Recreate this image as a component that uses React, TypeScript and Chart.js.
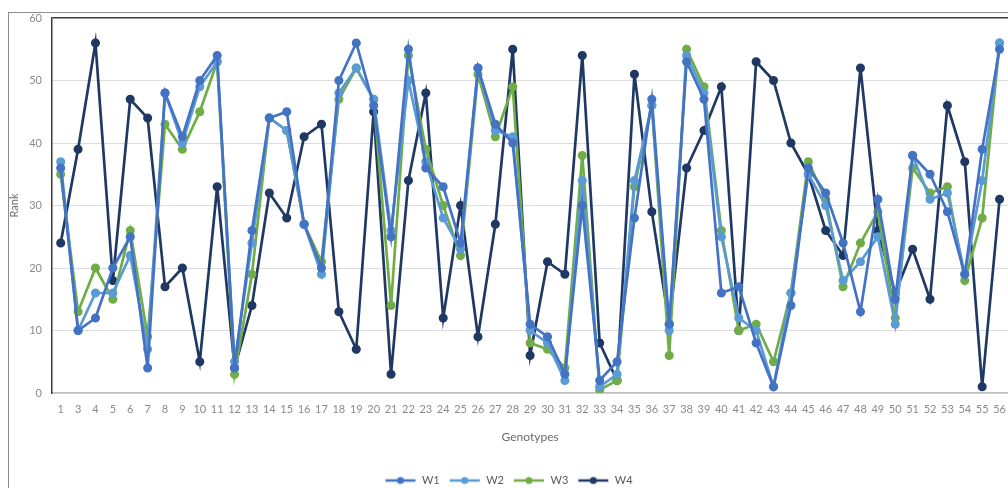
import React, { useEffect, useRef } from "react";
import { Chart, registerables } from "chart.js";

Chart.register(...registerables);

const genotypes = [
  "1", "3", "4", "5", "6", "7", "8", "9", "10", "11", "12", "13", "14", "15", "16", "17", "18", "19", "20",
  "21", "22", "23", "24", "25", "26", "27", "28", "29", "30", "31", "32", "33", "34", "35", "36", "37", "38",
  "39", "40", "41", "42", "43", "44", "45", "46", "47", "48", "49", "50", "51", "52", "53", "54", "55", "56",
];

const w1 = [
  36, 10, 12, 20, 25, 4, 48, 41, 50, 54, 4, 26, 44, 45, 27, 20, 50, 56, 46,
  25, 55, 36, 33, 24, 52, 43, 40, 11, 9, 3, 30, 2, 5, 28, 47, 11, 53,
  47, 16, 17, 8, 1, 14, 36, 32, 24, 13, 31, 15, 38, 35, 29, 19, 39, 55,
];
const w2 = [
  37, 10, 16, 16, 22, 7, 48, 40, 49, 53, 5, 24, 44, 42, 27, 19, 48, 52, 47,
  26, 50, 37, 28, 23, 52, 42, 41, 10, 8, 2, 34, 1, 3, 34, 46, 10, 54,
  48, 25, 12, 10, 1, 16, 35, 30, 18, 21, 25, 11, 38, 31, 32, 19, 34, 56,
];
const w3 = [
  35, 13, 20, 15, 26, 9, 43, 39, 45, 53, 3, 19, 44, 42, 27, 21, 47, 52, 47,
  14, 54, 39, 30, 22, 51, 41, 49, 8, 7, 4, 38, 0.5, 2, 33, 46, 6, 55,
  49, 26, 10, 11, 5, 16, 37, 31, 17, 24, 29, 12, 36, 32, 33, 18, 28, 56,
];
const w4 = [
  24, 39, 56, 18, 47, 44, 17, 20, 5, 33, 4, 14, 32, 28, 41, 43, 13, 7, 45,
  3, 34, 48, 12, 30, 9, 27, 55, 6, 21, 19, 54, 8, 2, 51, 29, 11, 36,
  42, 49, 10, 53, 50, 40, 35, 26, 22, 52, 26, 16, 23, 15, 46, 37, 1, 31,
];

const seriesNames = ["W1", "W2", "W3", "W4"];
const seriesColors = ["#4472C4", "#5B9BD5", "#70AD47", "#203864"];
const yTicks = [0, 10, 20, 30, 40, 50, 60];

function legendSymbol(color: string): HTMLCanvasElement {
  const c = document.createElement("canvas");
  c.width = 32;
  c.height = 10;
  const g = c.getContext("2d")!;
  g.strokeStyle = color;
  g.lineWidth = 2.5;
  g.beginPath();
  g.moveTo(1, 5);
  g.lineTo(31, 5);
  g.stroke();
  g.fillStyle = color;
  g.beginPath();
  g.arc(16, 5, 3.5, 0, Math.PI * 2);
  g.fill();
  return c;
}

export default function App() {
  const ref = useRef<HTMLCanvasElement | null>(null);

  useEffect(() => {
    if (!ref.current) return;
    const values = [w1, w2, w3, w4];
    const symbols = seriesColors.map(legendSymbol);
    const font = { family: "Lato, 'Open Sans', sans-serif", size: 11 };
    const chart = new Chart(ref.current, {
      type: "line",
      data: {
        labels: genotypes,
        datasets: seriesNames.map((name, i) => ({
          label: name,
          data: values[i],
          borderColor: seriesColors[i],
          backgroundColor: seriesColors[i],
          pointBackgroundColor: seriesColors[i],
          pointBorderColor: seriesColors[i],
          borderWidth: 2.7,
          pointRadius: 3.2,
          tension: 0,
          fill: false,
        })),
      },
      options: {
        animation: false,
        responsive: false,
        devicePixelRatio: 1,
        layout: { padding: { left: 8, top: 18, right: 7, bottom: 0 } },
        scales: {
          x: {
            type: "category",
            offset: true,
            grid: { display: false, drawTicks: false },
            border: { color: "#bfbfbf", width: 1.5 },
            ticks: {
              autoSkip: false,
              maxRotation: 0,
              minRotation: 0,
              color: "#8a8a8a",
              padding: 10,
              font,
            },
            title: {
              display: true,
              text: "Genotypes",
              color: "#6b6b6b",
              padding: { top: 6, bottom: 22 },
              font: { family: "Lato, 'Open Sans', sans-serif", size: 12 },
            },
            afterFit: (s: any) => {
              s.height = 73;
            },
          },
          y: {
            min: 0,
            max: 60,
            afterBuildTicks: (s: any) => {
              s.ticks = yTicks.map((v) => ({ value: v }));
            },
            grid: {
              drawTicks: false,
              color: (ctx: any) => (ctx.tick && ctx.tick.value === 60 ? "#3a3a3a" : "#dcdcdc"),
              lineWidth: (ctx: any) => (ctx.tick && ctx.tick.value === 60 ? 1.5 : 1),
            },
            border: { color: "#3a3a3a", width: 1.5 },
            ticks: {
              color: "#8a8a8a",
              padding: 10,
              font,
            },
            title: {
              display: true,
              text: "Rank",
              color: "#6b6b6b",
              padding: 0,
              font,
            },
            afterFit: (s: any) => {
              s.width = 44;
            },
          },
        },
        plugins: {
          legend: {
            position: "bottom",
            labels: {
              usePointStyle: true,
              pointStyleWidth: 32,
              boxHeight: 10,
              padding: 9,
              color: "#595959",
              font,
              generateLabels: (chart: any) =>
                chart.data.datasets.map((ds: any, i: number) => ({
                  text: ds.label,
                  fillStyle: seriesColors[i],
                  strokeStyle: seriesColors[i],
                  lineWidth: 0,
                  pointStyle: symbols[i],
                  hidden: false,
                  datasetIndex: i,
                  fontColor: "#595959",
                })),
            },
          },
          tooltip: { enabled: false },
        },
      },
    });
    return () => chart.destroy();
  }, []);

  return (
    <div style={{ position: "absolute", left: 0, top: 0, width: 1008, height: 488, overflow: "hidden", background: "#fff" }}>
      <div
        style={{
          position: "absolute",
          left: 8,
          top: 12,
          width: 1200,
          height: 700,
          borderLeft: "1px solid #8c8c8c",
          borderTop: "1px solid #8c8c8c",
        }}
      />
      <canvas ref={ref} width={1016} height={496} style={{ position: "absolute", left: 0, top: 0 }} />
    </div>
  );
}
